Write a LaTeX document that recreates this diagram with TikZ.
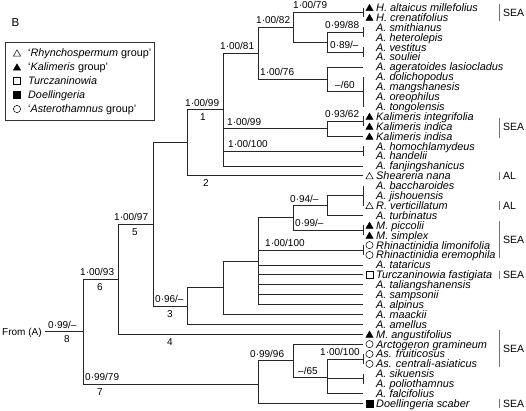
\documentclass[tikz,border=0pt]{standalone}
\usepackage{fontspec}
\setmainfont{Liberation Sans}
\usetikzlibrary{shapes.geometric}
\begin{document}
\begin{tikzpicture}[x=1pt,y=-1pt,
  br/.style={line width=0.8pt, draw=black!85},
  grp/.style={line width=0.9pt, draw=black!55},
  sup/.style={font=\fontsize{10}{12}\selectfont, inner sep=0pt, anchor=base west},
  num/.style={font=\fontsize{10}{12}\selectfont, inner sep=0pt, anchor=base},
  tipname/.style={font=\fontsize{10.9}{12}\selectfont\itshape, inner sep=0pt, anchor=base west},
  area/.style={font=\fontsize{10.5}{12}\selectfont, inner sep=0pt, anchor=base west},
  legtext/.style={font=\fontsize{10.8}{12}\selectfont, inner sep=0pt, anchor=base west},
  ftri/.style={regular polygon, regular polygon sides=3, draw=black, fill=black, line width=0.4pt, minimum size=8.4pt, inner sep=0pt, yshift=-1pt},
  otri/.style={regular polygon, regular polygon sides=3, draw=black, fill=white, line width=0.5pt, minimum size=8.4pt, inner sep=0pt, yshift=-1pt},
  osq/.style={rectangle, draw=black, fill=white, line width=0.5pt, minimum size=6.8pt, inner sep=0pt},
  fsq/.style={rectangle, draw=black, fill=black, line width=0.5pt, minimum size=6.8pt, inner sep=0pt},
  ocir/.style={circle, draw=black, fill=white, line width=0.5pt, minimum size=7.2pt, inner sep=0pt},
  nomk/.style={inner sep=0pt, minimum size=0pt}
]
\useasboundingbox (0,0) rectangle (526,410);

% panel letter
\node[font=\fontsize{11.5}{13}\selectfont, inner sep=0pt, anchor=base west] (panel) at (11.5,26) {B};

% legend
\node[draw=black!80, line width=0.7pt, minimum width=149pt, minimum height=78pt, anchor=north west, inner sep=0pt] (legendbox) at (5,42) {};
\node[otri] (lm1) at (17,53) {};
\node[legtext] (lt1) at (28,56.8) {‘\textit{Rhynchospermum} group’};
\node[ftri] (lm2) at (17,67) {};
\node[legtext] (lt2) at (28,70.8) {‘\textit{Kalimeris} group’};
\node[osq] (lm3) at (17,81) {};
\node[legtext] (lt3) at (28,84.8) {\textit{Turczaninowia}};
\node[fsq] (lm4) at (17,95) {};
\node[legtext] (lt4) at (28,98.8) {\textit{Doellingeria}};
\node[ocir] (lm5) at (17,109) {};
\node[legtext] (lt5) at (28,112.8) {‘\textit{Asterothamnus} group’};

% tips
\foreach \i/\nm/\mk in {
1/{H. altaicus millefolius}/ftri,
2/{H. crenatifolius}/ftri,
3/{A. smithianus}/nomk,
4/{A. heterolepis}/nomk,
5/{A. vestitus}/nomk,
6/{A. souliei}/nomk,
7/{A. ageratoides lasiocladus}/nomk,
8/{A. dolichopodus}/nomk,
9/{A. mangshanesis}/nomk,
10/{A. oreophilus}/nomk,
11/{A. tongolensis}/nomk,
12/{Kalimeris integrifolia}/ftri,
13/{Kalimeris indica}/ftri,
14/{Kalimeris indisa}/ftri,
15/{A. homochlamydeus}/nomk,
16/{A. handelii}/nomk,
17/{A. fanjingshanicus}/nomk,
18/{Sheareria nana}/otri,
19/{A. baccharoides}/nomk,
20/{A. jishouensis}/nomk,
21/{R. verticillatum}/otri,
22/{A. turbinatus}/nomk,
23/{M. piccolii}/ftri,
24/{M. simplex}/ftri,
25/{Rhinactinidia limonifolia}/ocir,
26/{Rhinactinidia eremophila}/ocir,
27/{A. tataricus}/nomk,
28/{Turczaninowia fastigiata}/osq,
29/{A. taliangshanensis}/nomk,
30/{A. sampsonii}/nomk,
31/{A. alpinus}/nomk,
32/{A. maackii}/nomk,
33/{A. amellus}/nomk,
34/{M. angustifolius}/ftri,
35/{Arctogeron gramineum}/ocir,
36/{As. fruiticosus}/ocir,
37/{As. centrali-asiaticus}/ocir,
38/{A. sikuensis}/nomk,
39/{A. poliothamnus}/nomk,
40/{A. falcifolius}/nomk,
41/{Doellingeria scaber}/fsq}{
  \pgfmathsetmacro\ty{7.5+(\i-1)*9.9}
  \coordinate (t\i) at (363,\ty);
  \node[\mk] (m\i) at (369.5,\ty) {};
  \node[tipname] (l\i) at (376,\ty+3.9) {\nm};
}

% internal nodes
\coordinate (c1) at (363,12.45);
\coordinate (c2) at (363,32.25);
\coordinate (c3) at (363,52.05);
\coordinate (n327a) at (327,42.15);
\coordinate (n293) at (293,27.3);
\coordinate (c4) at (363,91.65);
\coordinate (n327b) at (327,79.275);
\coordinate (n258a) at (258,53.29);
\coordinate (c5) at (363,121.35);
\coordinate (n328k) at (327,128.775);
\coordinate (c6) at (363,151.05);
\coordinate (n1) at (223,109.6);
\coordinate (n2) at (187,142.7);
\coordinate (c7) at (363,195.6);
\coordinate (n327c) at (327,205.5);
\coordinate (c8) at (363,230.25);
\coordinate (n293c) at (293,217.875);
\coordinate (c9) at (363,250.05);
\coordinate (n258) at (258,261.19);
\coordinate (n223) at (223,287.8);
\coordinate (n3) at (187,306.05);
\coordinate (n5) at (153,224.4);
\coordinate (n6) at (118,279.3);
\coordinate (c10) at (363,358.95);
\coordinate (c11) at (363,378.75);
\coordinate (n327d) at (327,377);
\coordinate (n293d) at (293,360.5);
\coordinate (n258d) at (258,384);
\coordinate (n8) at (83,331.6);
\coordinate (root) at (45,331.6);

% branches
\draw[br] (root) -- (n8);
\foreach \p/\c in {n8/n6, n8/n258d, n6/n5, n6/t34, n5/n2, n5/n3,
  n2/n1, n2/t18, n1/n258a, n1/n328k, n1/c6, n1/t17,
  n258a/n293, n258a/n327b, n293/c1, n293/n327a, n327a/c2, n327a/c3,
  c1/t1, c1/t2, c2/t3, c2/t4, c3/t5, c3/t6,
  n327b/t7, n327b/c4, c4/t8, c4/t9, c4/t10, c4/t11,
  n328k/c5, n328k/t14, c5/t12, c5/t13, c6/t15, c6/t16,
  n3/n223, n3/t33, n223/n258, n223/t32,
  n258/n293c, n258/c9, n258/t27, n258/t28, n258/t29, n258/t30, n258/t31,
  n293c/n327c, n293c/c8, n327c/c7, n327c/t22, c7/t19, c7/t20, c7/t21,
  c8/t23, c8/t24, c9/t25, c9/t26,
  n258d/n293d, n258d/t41, n293d/t35, n293d/n327d,
  n327d/c10, n327d/c11, n327d/t40, c10/t36, c10/t37, c11/t38, c11/t39}{
  \draw[br] (\p) |- (\c);
}

% root text
\node[font=\fontsize{10}{12}\selectfont, inner sep=0pt, anchor=base west] (from) at (2,335.4) {From (A)};

% support values
\node[sup] (s1) at (293,8.95) {1·00/79};
\node[sup] (s2) at (256,23.8) {1·00/82};
\node[sup] (s3) at (325,28.75) {0·99/88};
\node[sup] (s4) at (330,48.55) {0·89/–};
\node[sup] (s5) at (220,49.8) {1·00/81};
\node[sup] (s6) at (260,75.8) {1·00/76};
\node[sup] (s7) at (335,88.15) {–/60};
\node[sup] (s8) at (185,106.1) {1·00/99};
\node[sup] (s9) at (325,117.85) {0·93/62};
\node[sup] (s10) at (227,125.3) {1·00/99};
\node[sup] (s11) at (228,147.55) {1·00/100};
\node[sup] (s12) at (290,202) {0·94/–};
\node[sup] (s13) at (295,226.75) {0·99/–};
\node[sup] (s14) at (265,246.55) {1·00/100};
\node[sup] (s15) at (114,220.9) {1·00/97};
\node[sup] (s16) at (80,275.8) {1·00/93};
\node[sup] (s17) at (155,302.55) {0·96/–};
\node[sup] (s18) at (85,380.5) {0·99/79};
\node[sup] (s19) at (250,357) {0·99/96};
\node[sup] (s20) at (320,355.45) {1·00/100};
\node[sup] (s21) at (298,374) {–/65};
\node[sup] (s22) at (48,328.1) {0·99/–};

% clade numbers
\node[num] (k8) at (67,342.6) {8};
\node[num] (k6) at (100,290.3) {6};
\node[num] (k5) at (135,235.4) {5};
\node[num] (k3) at (170,317) {3};
\node[num] (k4) at (170,345.2) {4};
\node[num] (k7) at (100,395) {7};
\node[num] (k2) at (206,186.8) {2};
\node[num] (k1) at (203,120.6) {1};

% distribution bars
\draw[grp] (499,4) -- (499,21);
\node[area] (a1) at (503,16.3) {SEA};
\draw[grp] (499,118) -- (499,138);
\node[area] (a2) at (503,130.8) {SEA};
\draw[grp] (499,171.5) -- (499,180);
\node[area] (a3) at (503,179.6) {AL};
\draw[grp] (499,201) -- (499,210);
\node[area] (a4) at (503,209.3) {AL};
\draw[grp] (499,221) -- (499,258);
\node[area] (a5) at (503,243.8) {SEA};
\draw[grp] (499,270.5) -- (499,279);
\node[area] (a6) at (503,278.6) {SEA};
\draw[grp] (499,330) -- (499,367);
\node[area] (a7) at (503,352.3) {SEA};
\draw[grp] (499,399) -- (499,408);
\node[area] (a8) at (503,407.3) {SEA};
\end{tikzpicture}
\end{document}
